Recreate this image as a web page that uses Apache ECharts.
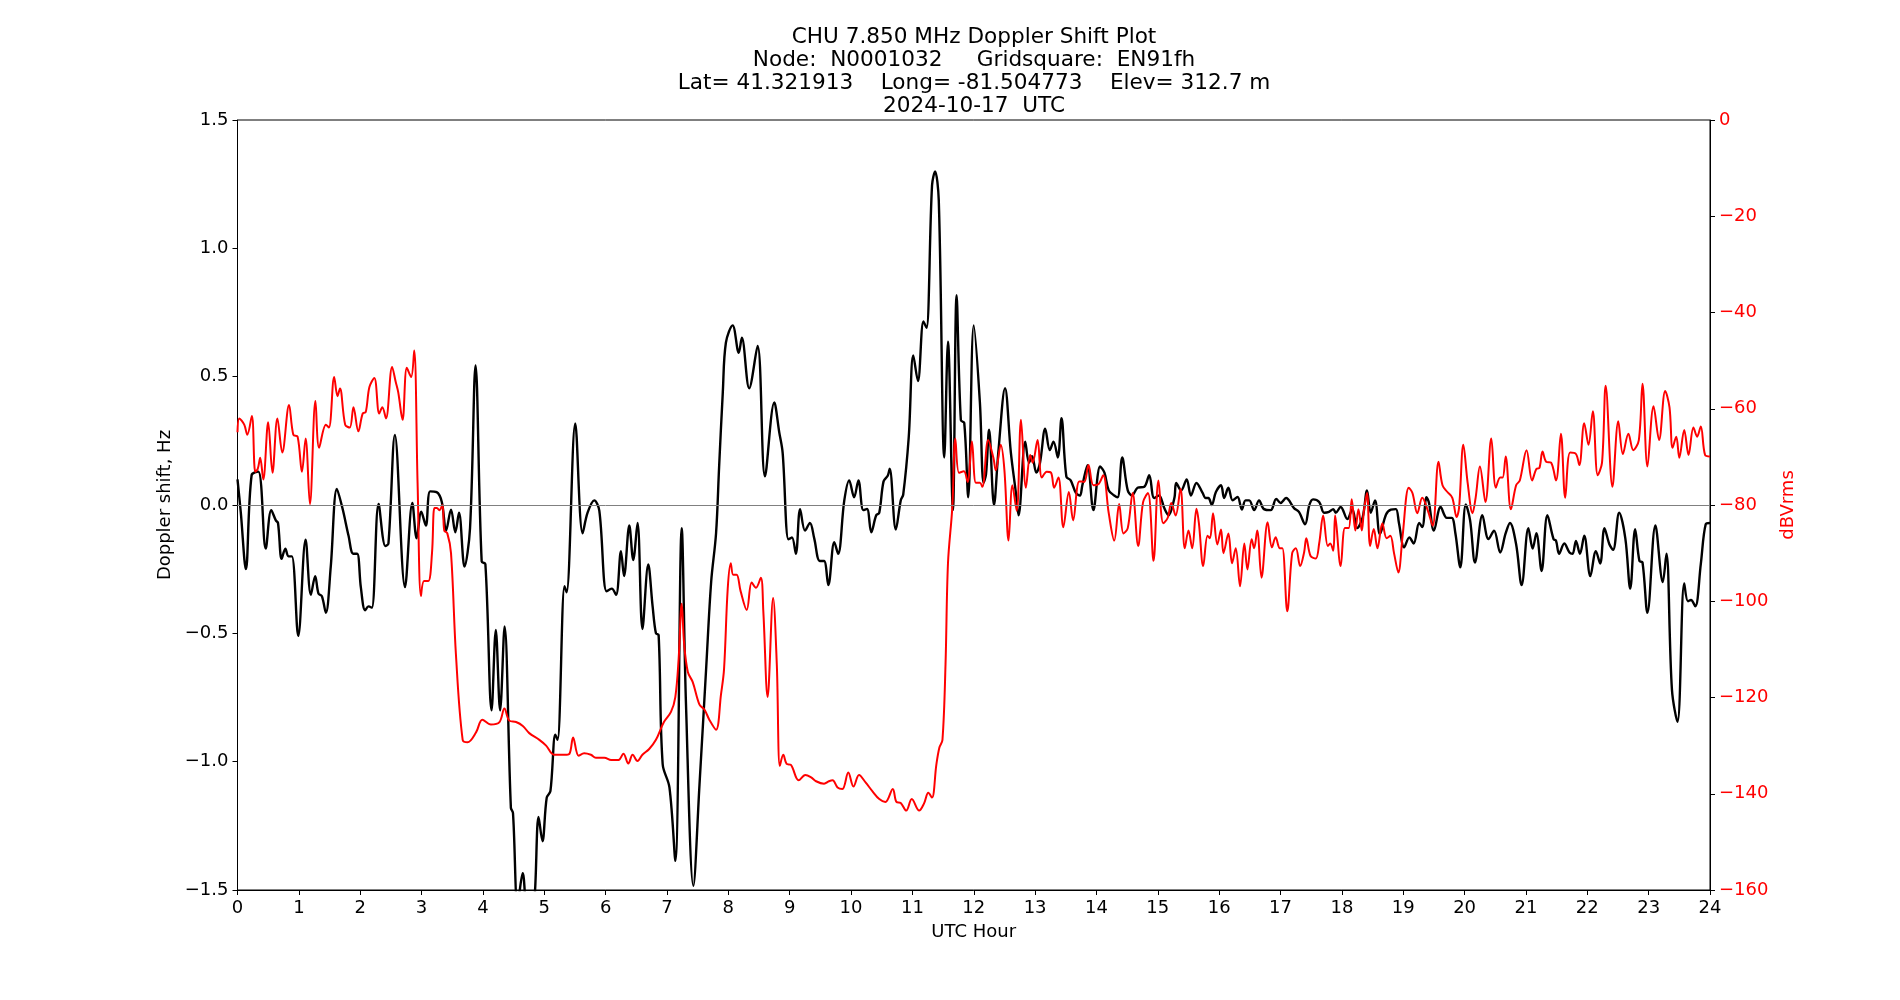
<!DOCTYPE html>
<html>
<head>
<meta charset="utf-8">
<title>CHU 7.850 MHz Doppler Shift Plot</title>
<script src="https://cdn.jsdelivr.net/npm/echarts@6.0.0/dist/echarts.min.js"></script>
<style>
  html, body { margin: 0; padding: 0; background: #fff; }
  #chart { width: 1900px; height: 1000px; }
</style>
</head>
<body>
<div id="chart"></div>
<script>
// title lines
const titleLines = [
  'CHU 7.850 MHz Doppler Shift Plot',
  'Node:  N0001032     Gridsquare:  EN91fh',
  'Lat= 41.321913    Long= -81.504773    Elev= 312.7 m',
  '2024-10-17  UTC'
];

// [UTC hour, Doppler shift Hz]
const blackShift = [
  [0.00, 0.10], [0.054, -0.03], [0.136, -0.25], [0.23, 0.116], [0.34, 0.13], [0.46, -0.17],
  [0.55, -0.02], [0.625, -0.06], [0.66, -0.07], [0.72, -0.21], [0.78, -0.17], [0.83, -0.20],
  [0.886, -0.20], [0.99, -0.51], [1.11, -0.135], [1.196, -0.35], [1.266, -0.277], [1.32, -0.345],
  [1.375, -0.355], [1.44, -0.42], [1.52, -0.24], [1.62, 0.063], [1.71, -0.012], [1.81, -0.12],
  [1.886, -0.19], [1.95, -0.19], [2.01, -0.32], [2.08, -0.41], [2.136, -0.395], [2.19, -0.40],
  [2.30, 0.004], [2.41, -0.16], [2.46, -0.15], [2.565, 0.273], [2.73, -0.32], [2.85, 0.008],
  [2.92, -0.13], [2.995, -0.026], [3.07, -0.08], [3.14, 0.053], [3.245, 0.05], [3.33, 0.012],
  [3.40, -0.10], [3.48, -0.018], [3.55, -0.106], [3.61, -0.03], [3.70, -0.24], [3.79, -0.09],
  [3.88, 0.544], [3.98, -0.22], [4.04, -0.23], [4.141, -0.80], [4.21, -0.487], [4.28, -0.80],
  [4.353, -0.473], [4.456, -1.18], [4.49, -1.20], [4.565, -1.56], [4.647, -1.435], [4.72, -1.60],
  [4.80, -1.64], [4.85, -1.50], [4.907, -1.215], [4.97, -1.31], [5.04, -1.14], [5.10, -1.115],
  [5.18, -0.895], [5.217, -0.915], [5.33, -0.316], [5.364, -0.34], [5.505, 0.318], [5.625, -0.11],
  [5.706, -0.03], [5.815, 0.018], [5.897, -0.022], [6.016, -0.336], [6.10, -0.326], [6.17, -0.35],
  [6.25, -0.18], [6.30, -0.277], [6.386, -0.08], [6.45, -0.214], [6.52, -0.07], [6.60, -0.483],
  [6.695, -0.232], [6.766, -0.395], [6.82, -0.50], [6.864, -0.507], [6.93, -1.01], [7.04, -1.10],
  [7.136, -1.386], [7.24, -0.09], [7.31, -0.777], [7.43, -1.484], [7.53, -1.09], [7.64, -0.63],
  [7.72, -0.30], [7.80, -0.11], [7.85, 0.15], [7.91, 0.44], [7.96, 0.632], [8.07, 0.70],
  [8.17, 0.593], [8.22, 0.652], [8.34, 0.455], [8.477, 0.62], [8.597, 0.112], [8.749, 0.40],
  [8.83, 0.283], [8.885, 0.204], [8.98, -0.134], [9.037, -0.126], [9.10, -0.19], [9.17, -0.016],
  [9.25, -0.10], [9.33, -0.07], [9.40, -0.13], [9.49, -0.218], [9.56, -0.218], [9.63, -0.312],
  [9.727, -0.145], [9.79, -0.19], [9.89, 0.018], [9.97, 0.096], [10.05, 0.03], [10.12, 0.096],
  [10.20, -0.02], [10.26, -0.015], [10.33, -0.106], [10.41, -0.04], [10.46, -0.03], [10.53, 0.092],
  [10.60, 0.115], [10.63, 0.141], [10.73, -0.096], [10.81, 0.018], [10.85, 0.04], [10.94, 0.263],
  [11.015, 0.583], [11.09, 0.483], [11.18, 0.715], [11.23, 0.69], [11.32, 1.245], [11.37, 1.30],
  [11.43, 1.186], [11.52, 0.185], [11.58, 0.636], [11.66, -0.02], [11.72, 0.817], [11.79, 0.33],
  [11.845, 0.32], [11.91, 0.03], [12.0, 0.70], [12.10, 0.40], [12.16, 0.086], [12.20, 0.12],
  [12.25, 0.293], [12.33, 0.0], [12.40, 0.204], [12.51, 0.455], [12.605, 0.204], [12.687, 0.047],
  [12.73, -0.04], [12.84, 0.247], [12.90, 0.165], [12.95, 0.19], [13.02, 0.126], [13.08, 0.165],
  [13.165, 0.297], [13.24, 0.214], [13.30, 0.247], [13.37, 0.185], [13.43, 0.338], [13.51, 0.11],
  [13.58, 0.096], [13.665, 0.047], [13.73, 0.037], [13.77, 0.077], [13.855, 0.155], [13.95, -0.02],
  [14.06, 0.15], [14.13, 0.126], [14.20, 0.057], [14.29, 0.037], [14.345, 0.03], [14.42, 0.185],
  [14.51, 0.057], [14.58, 0.037], [14.67, 0.067], [14.78, 0.071], [14.86, 0.116], [14.94, 0.027],
  [15.02, 0.037], [15.105, -0.012], [15.175, -0.04], [15.27, 0.027], [15.30, 0.086], [15.38, 0.057],
  [15.47, 0.10], [15.54, 0.037], [15.63, 0.086], [15.73, 0.047], [15.78, 0.027], [15.825, 0.027],
  [15.88, 0.0], [15.945, 0.05], [16.03, 0.077], [16.08, 0.027], [16.15, 0.067], [16.22, 0.018],
  [16.30, 0.031], [16.37, -0.018], [16.43, 0.018], [16.49, 0.018], [16.57, -0.02], [16.65, 0.018],
  [16.73, -0.016], [16.84, -0.02], [16.93, 0.024], [17.00, 0.008], [17.09, 0.027], [17.22, -0.012],
  [17.30, -0.027], [17.40, -0.075], [17.47, 0.0], [17.53, 0.022], [17.63, 0.012], [17.71, -0.03],
  [17.79, -0.027], [17.86, -0.016], [17.90, -0.03], [17.98, -0.008], [18.09, -0.055], [18.17, -0.016],
  [18.25, -0.09], [18.34, -0.047], [18.41, 0.057], [18.47, -0.03], [18.54, 0.018], [18.62, -0.114],
  [18.72, -0.037], [18.80, -0.018], [18.88, -0.016], [18.93, -0.07], [19.015, -0.165], [19.10, -0.126],
  [19.17, -0.15], [19.26, -0.07], [19.31, -0.086], [19.38, 0.03], [19.42, 0.008], [19.50, -0.10],
  [19.61, -0.008], [19.71, -0.05], [19.79, -0.05], [19.85, -0.11], [19.93, -0.243], [20.02, 0.002],
  [20.09, -0.06], [20.17, -0.224], [20.29, -0.04], [20.39, -0.133], [20.48, -0.10], [20.58, -0.185],
  [20.67, -0.11], [20.74, -0.07], [20.84, -0.153], [20.93, -0.312], [21.04, -0.09], [21.11, -0.17],
  [21.17, -0.11], [21.255, -0.257], [21.35, -0.04], [21.45, -0.133], [21.49, -0.139], [21.54, -0.19],
  [21.625, -0.15], [21.71, -0.185], [21.76, -0.19], [21.815, -0.14], [21.88, -0.19], [21.95, -0.12],
  [22.05, -0.277], [22.14, -0.18], [22.21, -0.228], [22.28, -0.09], [22.36, -0.153], [22.42, -0.175],
  [22.52, -0.03], [22.62, -0.13], [22.70, -0.326], [22.78, -0.094], [22.85, -0.218], [22.90, -0.224],
  [22.98, -0.42], [23.11, -0.08], [23.23, -0.30], [23.29, -0.19], [23.38, -0.72], [23.47, -0.845],
  [23.58, -0.306], [23.64, -0.375], [23.69, -0.37], [23.76, -0.395], [23.85, -0.23], [23.93, -0.075],
  [24.0, -0.07]
];

// [UTC hour, dBVrms]
const redLevel = [
  [0.00, -64.9], [0.03, -62], [0.11, -63.3], [0.16, -65.4], [0.234, -61.5], [0.29, -73.1],
  [0.33, -72.5], [0.37, -70.2], [0.42, -74.7], [0.50, -62.8], [0.57, -73.3], [0.65, -62],
  [0.73, -69.1], [0.84, -59.2], [0.91, -65.4], [0.98, -65.8], [1.05, -73.1], [1.11, -66.2],
  [1.18, -79.8], [1.27, -58.4], [1.33, -68.1], [1.44, -63.3], [1.49, -63.9], [1.576, -53.4],
  [1.63, -57.4], [1.67, -55.8], [1.755, -63.3], [1.83, -63.9], [1.89, -59.7], [1.97, -64.7],
  [2.04, -61], [2.09, -60.7], [2.15, -55.5], [2.23, -53.6], [2.31, -61], [2.36, -59.7],
  [2.42, -62], [2.52, -51.3], [2.58, -54.5], [2.62, -56.6], [2.69, -62.3], [2.76, -51.5],
  [2.83, -53.4], [2.88, -47.9], [2.935, -75.4], [2.99, -98.9], [3.04, -95.8], [3.11, -95.8],
  [3.17, -90], [3.21, -80.6], [3.25, -80.6], [3.29, -81.1], [3.34, -80], [3.37, -85.3],
  [3.42, -85.9], [3.48, -90], [3.56, -111], [3.67, -128.8], [3.75, -129.3], [3.89, -127.2],
  [3.99, -124.6], [4.13, -125.6], [4.27, -125.1], [4.35, -122.3], [4.43, -124.8], [4.54, -125.1],
  [4.65, -125.9], [4.755, -127.4], [4.92, -128.8], [5.03, -130.0], [5.16, -131.9], [5.33, -131.9],
  [5.41, -131.7], [5.47, -128.3], [5.56, -132.1], [5.65, -131.6], [5.76, -131.9], [5.84, -132.5],
  [5.98, -132.5], [6.09, -133], [6.21, -133], [6.29, -131.7], [6.37, -133.7], [6.44, -131.9],
  [6.52, -133.2], [6.60, -131.9], [6.71, -130.7], [6.82, -128.8], [6.95, -125.1], [7.065, -123],
  [7.136, -119.9], [7.19, -112], [7.24, -100.5], [7.28, -108.9], [7.34, -114.7], [7.42, -116.8],
  [7.53, -121.5], [7.61, -122.5], [7.69, -124.6], [7.80, -126.7], [7.88, -119.4], [7.93, -114.1],
  [7.99, -97.4], [8.04, -92.1], [8.08, -94.5], [8.135, -94.5], [8.20, -97.9], [8.30, -101.8],
  [8.38, -96.1], [8.45, -97.2], [8.53, -95.1], [8.57, -102], [8.64, -119.9], [8.73, -99.3],
  [8.79, -113.1], [8.84, -134.2], [8.896, -131.9], [8.95, -133.8], [9.02, -134], [9.146, -137.2],
  [9.255, -136.1], [9.35, -136.6], [9.43, -137.4], [9.56, -137.9], [9.64, -137.4], [9.70, -137.2],
  [9.78, -138.7], [9.86, -139], [9.955, -135.6], [10.04, -138.5], [10.13, -136.1], [10.24, -137.7],
  [10.35, -139.5], [10.46, -141.1], [10.56, -141.7], [10.68, -139], [10.74, -141.7], [10.81, -141.9],
  [10.90, -143.5], [10.99, -141.1], [11.11, -143.5], [11.19, -142], [11.26, -139.8], [11.32, -140.8],
  [11.39, -134], [11.44, -130.4], [11.49, -128.8], [11.54, -113.1], [11.58, -92.1], [11.65, -80.6],
  [11.70, -66.2], [11.76, -73.3], [11.84, -73], [11.90, -75.2], [11.97, -66.8], [12.035, -75.4],
  [12.10, -75.4], [12.14, -76.2], [12.236, -66.5], [12.32, -70.2], [12.36, -72.8], [12.44, -67.5],
  [12.50, -72.8], [12.567, -87.4], [12.63, -75.9], [12.70, -81.2], [12.77, -62.3], [12.85, -76.4],
  [12.92, -69.6], [12.96, -71.2], [13.04, -66.5], [13.11, -74.3], [13.19, -73.1], [13.26, -73.3],
  [13.31, -76.4], [13.38, -74.3], [13.46, -84.6], [13.55, -77.3], [13.62, -83.2], [13.72, -75.1],
  [13.80, -75.2], [13.87, -71.7], [13.95, -75.9], [14.03, -75.7], [14.11, -73.8], [14.20, -81.7],
  [14.29, -87.4], [14.37, -79.8], [14.44, -85.9], [14.51, -84.8], [14.59, -77.5], [14.68, -88.5],
  [14.76, -79.4], [14.84, -77.5], [14.93, -91.6], [15.01, -74.9], [15.09, -83.8], [15.16, -82.7],
  [15.22, -79.6], [15.29, -82.2], [15.37, -76.6], [15.44, -89], [15.50, -85.3], [15.56, -89],
  [15.63, -80.8], [15.67, -83.8], [15.74, -92.7], [15.81, -86.4], [15.85, -86.9], [15.90, -81.7],
  [15.97, -88.2], [16.03, -85.1], [16.07, -90], [16.15, -85.9], [16.21, -92.1], [16.27, -89],
  [16.34, -96.9], [16.41, -88], [16.46, -93.4], [16.53, -87.1], [16.57, -89], [16.62, -85.3],
  [16.69, -95.1], [16.79, -83.6], [16.86, -88.8], [16.92, -86.7], [16.99, -89], [17.03, -89],
  [17.11, -102.1], [17.19, -90], [17.25, -89], [17.32, -92.7], [17.385, -89.8], [17.42, -86.9],
  [17.49, -90.6], [17.575, -91.1], [17.63, -88], [17.695, -82.2], [17.77, -88.5], [17.81, -88],
  [17.86, -89.5], [17.89, -82.2], [17.98, -92.7], [18.05, -84.8], [18.11, -84.8], [18.16, -78.8],
  [18.22, -85.3], [18.27, -80.9], [18.325, -85.3], [18.36, -81.1], [18.41, -77.5], [18.46, -88.5],
  [18.52, -85], [18.58, -89], [18.66, -83.8], [18.73, -86.9], [18.79, -86.4], [18.85, -90],
  [18.92, -94], [18.99, -86.4], [19.09, -76.4], [19.15, -77.5], [19.23, -81.7], [19.31, -78.5],
  [19.40, -81.1], [19.48, -84.3], [19.575, -71], [19.64, -75.9], [19.72, -77.3], [19.80, -78.5],
  [19.87, -82.5], [19.91, -80.6], [19.98, -67.5], [20.05, -75.4], [20.13, -81.7], [20.18, -78.5],
  [20.25, -72], [20.34, -79.4], [20.435, -66.2], [20.51, -76.4], [20.58, -74.3], [20.62, -74.3],
  [20.67, -69.9], [20.755, -80.9], [20.84, -75.9], [20.90, -74.9], [21.01, -68.6], [21.10, -74.9],
  [21.17, -72.5], [21.22, -72.3], [21.27, -68.9], [21.33, -71], [21.41, -71.2], [21.49, -74.9],
  [21.57, -65.2], [21.64, -78.5], [21.72, -69.1], [21.815, -69.4], [21.87, -71.7], [21.95, -63],
  [22.02, -67.5], [22.09, -60.5], [22.17, -73.8], [22.24, -71.2], [22.30, -55.2], [22.41, -76.2],
  [22.505, -62.6], [22.58, -69.4], [22.67, -65.2], [22.75, -68.6], [22.84, -66.5], [22.90, -54.8],
  [22.98, -72], [23.08, -59.5], [23.17, -66.5], [23.27, -56.3], [23.34, -59.7], [23.39, -68.1],
  [23.45, -65.8], [23.50, -70.2], [23.58, -64.4], [23.65, -69.6], [23.73, -63.9], [23.79, -65.8],
  [23.85, -63.7], [23.92, -69.6], [24.0, -69.9]
];

const FONT = 'DejaVu Sans';
const minus = s => s.replace('-', '\u2212');

const chart = echarts.init(document.getElementById('chart'), null, { renderer: 'canvas' });

const option = {
  animation: false,
  backgroundColor: '#fff',
  title: {
    text: titleLines.join('\n'),
    left: 969,
    top: 21,
    textAlign: 'center',
    textStyle: { fontFamily: FONT, fontSize: 21.6, fontWeight: 'normal', color: '#000', lineHeight: 23 }
  },
  grid: {
    left: 237.5, right: 190, top: 120, bottom: 110,
    show: true, borderColor: '#000', borderWidth: 1, backgroundColor: 'transparent'
  },
  xAxis: {
    type: 'value', min: 0, max: 24, interval: 1,
    name: 'UTC Hour', nameLocation: 'middle', nameGap: 33,
    nameTextStyle: { fontFamily: FONT, fontSize: 18, color: '#000' },
    axisLine: { onZero: false, lineStyle: { color: '#000', width: 1 } },
    axisTick: { length: 5, lineStyle: { color: '#000' } },
    axisLabel: { fontFamily: FONT, fontSize: 18, color: '#000', margin: 9 },
    splitLine: { show: false }
  },
  yAxis: [
    {
      type: 'value', min: -1.5, max: 1.5, interval: 0.5,
      name: 'Doppler shift, Hz', nameLocation: 'middle', nameGap: 57, nameRotate: 90,
      nameTextStyle: { fontFamily: FONT, fontSize: 18, color: '#000' },
      axisLine: { show: true, onZero: false, lineStyle: { color: '#000', width: 1 } },
      axisTick: { show: true, length: 5, lineStyle: { color: '#000' } },
      axisLabel: {
        fontFamily: FONT, fontSize: 18, color: '#000', margin: 9,
        formatter: v => minus(v.toFixed(1))
      },
      splitLine: { show: false }
    },
    {
      type: 'value', min: -160, max: 0, interval: 20, position: 'right',
      name: 'dBVrms', nameLocation: 'middle', nameGap: 61, nameRotate: 90,
      nameTextStyle: { fontFamily: FONT, fontSize: 18, color: '#ff0000' },
      axisLine: { show: true, onZero: false, lineStyle: { color: '#000', width: 1 } },
      axisTick: { show: true, length: 5, lineStyle: { color: '#000' } },
      axisLabel: {
        fontFamily: FONT, fontSize: 18, color: '#ff0000', margin: 9,
        formatter: v => minus(String(v))
      },
      splitLine: { show: false }
    }
  ],
  series: [
    {
      name: 'zero', type: 'line', data: [], z: 1, silent: true,
      markLine: {
        silent: true, symbol: 'none', label: { show: false },
        lineStyle: { color: '#808080', width: 1, type: 'solid' },
        data: [{ yAxis: 0 }]
      }
    },
    {
      name: 'Doppler shift', type: 'line', data: blackShift, yAxisIndex: 0, z: 2,
      showSymbol: false, smooth: 0.35,
      lineStyle: { color: '#000', width: 2.4 }
    },
    {
      name: 'dBVrms', type: 'line', data: redLevel, yAxisIndex: 1, z: 3,
      showSymbol: false, smooth: 0.35,
      lineStyle: { color: '#ff0000', width: 2 }
    }
  ]
};

chart.setOption(option);
</script>
</body>
</html>
